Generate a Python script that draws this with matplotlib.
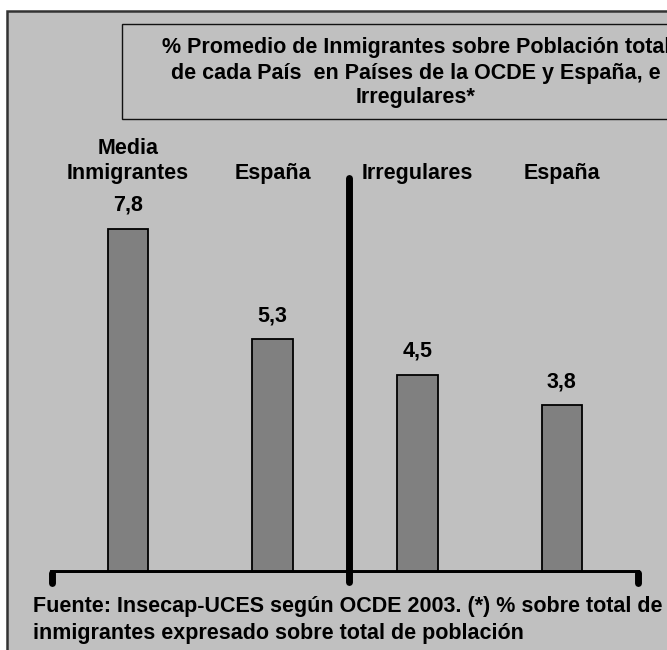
"""
Promedio de inmigrantes sobre poblacion total (OCDE vs Espana) e irregulares.
Bar chart on a grey panel, Excel style.
"""
import matplotlib.pyplot as plt
from matplotlib.patches import Rectangle
from matplotlib.transforms import blended_transform_factory

plt.rcParams["font.family"] = ["Liberation Sans", "DejaVu Sans"]
plt.rcParams["font.weight"] = "bold"

categories = ["Media\nInmigrantes", "España", "Irregulares", "España"]
values = [7.8, 5.3, 4.5, 3.8]
value_labels = ["7,8", "5,3", "4,5", "3,8"]

title = ("% Promedio de Inmigrantes sobre Población total\n"
         "de cada País  en Países de la OCDE y España, e\n"
         "Irregulares*")
footer = ("Fuente: Insecap-UCES según OCDE 2003. (*) % sobre total de\n"
          "inmigrantes expresado sobre total de población")

FS = 15.5
W, H = 667, 650
fig = plt.figure(figsize=(W / 100, H / 100), dpi=100)
fig.patch.set_facecolor("white")


def px(x, y):
    # pixel (from top-left) -> figure fraction
    return x / W, 1 - y / H


# grey background panel
x0, y0 = px(7, 11)
fig.patches.append(Rectangle((x0, -0.05), 1.1, y0 + 0.05, transform=fig.transFigure,
                             fc="#C0C0C0", ec="#333333", lw=1.8, zorder=-2))

# title box (runs off the right edge, as in the original)
bx, by = px(122, 119)
_, bt = px(122, 24)
fig.patches.append(Rectangle((bx, by), 1.1, bt - by, transform=fig.transFigure,
                             fc="#C0C0C0", ec="#111111", lw=1.0, zorder=-1))
tx, ty = px(416, 73)
fig.text(tx, ty, title, ha="center", va="center", fontsize=FS, linespacing=1.25)

# bars
l, b = px(50, 573)
r, t = px(640, 176)
ax = fig.add_axes([l, b, r - l, t - b])
ax.set_zorder(2)
ax.patch.set_visible(False)
xs = range(len(values))
ax.bar(xs, values, width=0.28, color="#808080", edgecolor="black", lw=1.3, zorder=2)
ax.set_xlim(-0.54, 3.54)
ax.set_ylim(0, 9)

for x, v, s in zip(xs, values, value_labels):
    ax.annotate(s, (x, v), xytext=(0, 17), textcoords="offset points",
                ha="center", va="center", fontsize=FS, fontweight="bold")

# category labels above the plot area
ax.xaxis.tick_top()
ax.set_xticks(list(xs))
ax.set_xticklabels(categories, fontsize=FS, fontweight="bold", linespacing=1.3)
ax.tick_params(axis="x", length=0, pad=-6)
ax.set_yticks([])
for sp in ax.spines.values():
    sp.set_visible(False)

# thick baseline with hooked ends
ax.axhline(0, color="black", lw=5, solid_capstyle="round", zorder=3)
trans = blended_transform_factory(ax.transAxes, ax.transData)
for xe in (0.004, 0.996):
    ax.plot([xe, xe], [0, -0.22], transform=trans, color="black", lw=5,
            solid_capstyle="round", clip_on=False, zorder=3)

# divider between groups
ax.plot([1.53, 1.53], [-0.2, 8.95], color="black", lw=5,
        solid_capstyle="round", clip_on=False, zorder=3)

fx, fy = px(33, 596)
fig.text(fx, fy, footer, ha="left", va="top", fontsize=FS, linespacing=1.4)

fig.savefig("out.png", dpi=100)
